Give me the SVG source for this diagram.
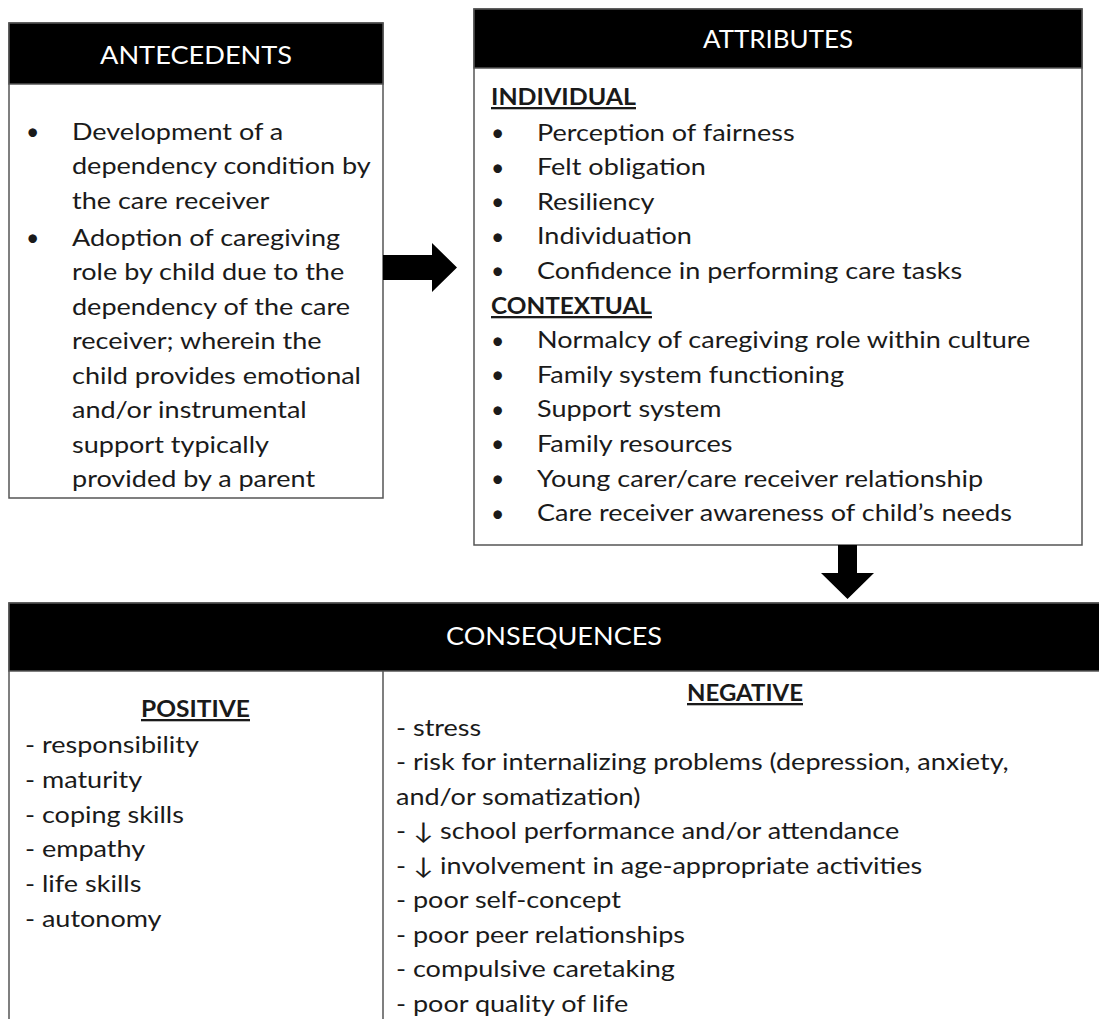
<svg xmlns="http://www.w3.org/2000/svg" width="1099" height="1019" viewBox="0 0 1099 1019">
  <style>
    .box { fill: #ffffff; stroke: #555555; stroke-width: 1.5; }
    .hdr { fill: #000000; stroke: #555555; stroke-width: 1.5; }
    .htxt { font-family: Lato, "Liberation Sans", sans-serif; font-size: 25px; fill: #ffffff; text-anchor: middle; }
    .t { font-family: Lato, "DejaVu Sans", sans-serif; font-size: 23px; fill: #1a1a1a; }
    .b { font-family: Lato, "Liberation Sans", sans-serif; font-size: 23px; font-weight: bold; fill: #1a1a1a; text-decoration: underline; }
    .arrow { fill: #000000; }
    .div { stroke: #555555; stroke-width: 1.5; }
  </style>

  <g id="antecedents">
    <rect class="box" x="9" y="23" width="374" height="475"/>
    <rect class="hdr" x="9" y="23" width="374" height="61"/>
    <text class="htxt" x="196" y="64" textLength="192" lengthAdjust="spacingAndGlyphs">ANTECEDENTS</text>
    <text class="t" x="26" y="140">•</text>
    <text class="t" x="26" y="246">•</text>
    <g transform="translate(72,0) scale(1.175,1)">
      <text class="t" x="0" y="140">Development of a</text>
      <text class="t" x="0" y="174.5">dependency condition by</text>
      <text class="t" x="0" y="209">the care receiver</text>
      <text class="t" x="0" y="246">Adoption of caregiving</text>
      <text class="t" x="0" y="280.5">role by child due to the</text>
      <text class="t" x="0" y="315">dependency of the care</text>
      <text class="t" x="0" y="349.5">receiver; wherein the</text>
      <text class="t" x="0" y="384">child provides emotional</text>
      <text class="t" x="0" y="418.5">and/or instrumental</text>
      <text class="t" x="0" y="453">support typically</text>
      <text class="t" x="0" y="487.5">provided by a parent</text>
    </g>
  </g>

  <g id="attributes">
    <rect class="box" x="474" y="9" width="608" height="536"/>
    <rect class="hdr" x="474" y="9" width="608" height="59"/>
    <text class="htxt" x="778" y="48" textLength="150" lengthAdjust="spacingAndGlyphs">ATTRIBUTES</text>
    <text class="b" x="491" y="105" textLength="145" lengthAdjust="spacingAndGlyphs">INDIVIDUAL</text>
    <text class="b" x="491" y="314" textLength="161" lengthAdjust="spacingAndGlyphs">CONTEXTUAL</text>
    <text class="t" x="491" y="141">•</text>
    <text class="t" x="491" y="175.5">•</text>
    <text class="t" x="491" y="210">•</text>
    <text class="t" x="491" y="244.5">•</text>
    <text class="t" x="491" y="279">•</text>
    <text class="t" x="491" y="348.5">•</text>
    <text class="t" x="491" y="383">•</text>
    <text class="t" x="491" y="417.5">•</text>
    <text class="t" x="491" y="452">•</text>
    <text class="t" x="491" y="487">•</text>
    <text class="t" x="491" y="521.5">•</text>
    <g transform="translate(537,0) scale(1.175,1)">
      <text class="t" x="0" y="141">Perception of fairness</text>
      <text class="t" x="0" y="175.5">Felt obligation</text>
      <text class="t" x="0" y="210">Resiliency</text>
      <text class="t" x="0" y="244.5">Individuation</text>
      <text class="t" x="0" y="279">Confidence in performing care tasks</text>
      <text class="t" x="0" y="348.5">Normalcy of caregiving role within culture</text>
      <text class="t" x="0" y="383">Family system functioning</text>
      <text class="t" x="0" y="417.5">Support system</text>
      <text class="t" x="0" y="452">Family resources</text>
      <text class="t" x="0" y="487">Young carer/care receiver relationship</text>
      <text class="t" x="0" y="521.5">Care receiver awareness of child’s needs</text>
    </g>
  </g>

  <g id="consequences">
    <rect class="box" x="9" y="603" width="1100" height="430"/>
    <rect class="hdr" x="9" y="603" width="1100" height="68"/>
    <text class="htxt" x="554" y="645" textLength="216" lengthAdjust="spacingAndGlyphs">CONSEQUENCES</text>
    <line class="div" x1="383" y1="671" x2="383" y2="1030"/>
    <text class="b" x="141" y="717" textLength="109" lengthAdjust="spacingAndGlyphs">POSITIVE</text>
    <text class="b" x="687" y="701" textLength="116" lengthAdjust="spacingAndGlyphs">NEGATIVE</text>
    <g transform="translate(25,0) scale(1.175,1)">
      <text class="t" x="0" y="753">- responsibility</text>
      <text class="t" x="0" y="788">- maturity</text>
      <text class="t" x="0" y="823">- coping skills</text>
      <text class="t" x="0" y="857">- empathy</text>
      <text class="t" x="0" y="892">- life skills</text>
      <text class="t" x="0" y="927">- autonomy</text>
    </g>
    <g transform="translate(396,0) scale(1.175,1)">
      <text class="t" x="0" y="736">- stress</text>
      <text class="t" x="0" y="770.5">- risk for internalizing problems (depression, anxiety,</text>
      <text class="t" x="0" y="805">and/or somatization)</text>
      <text class="t" x="0" y="839.5">- ↓ school performance and/or attendance</text>
      <text class="t" x="0" y="874">- ↓ involvement in age-appropriate activities</text>
      <text class="t" x="0" y="908.5">- poor self-concept</text>
      <text class="t" x="0" y="943">- poor peer relationships</text>
      <text class="t" x="0" y="977.5">- compulsive caretaking</text>
      <text class="t" x="0" y="1012">- poor quality of life</text>
    </g>
  </g>

  <g id="connectors">
    <polygon class="arrow" points="383,255 432,255 432,243 457,267.5 432,292 432,280 383,280"/>
    <polygon class="arrow" points="838,545 857,545 857,573 874,573 847.5,599 821,573 838,573"/>
  </g>
</svg>
